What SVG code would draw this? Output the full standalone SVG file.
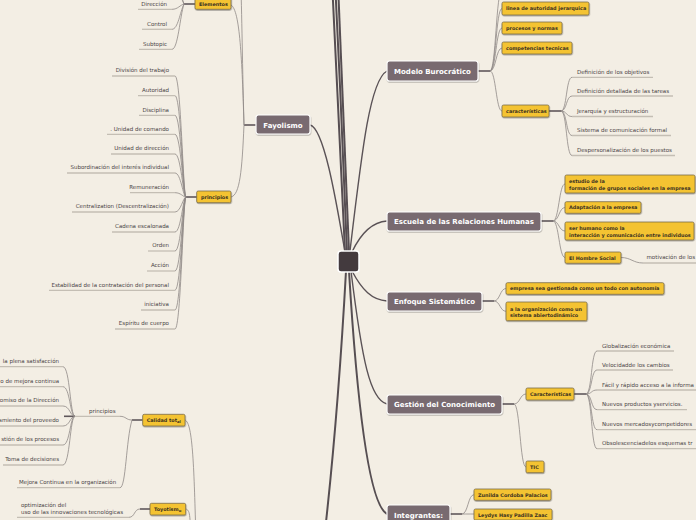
<svg xmlns="http://www.w3.org/2000/svg" width="696" height="520" viewBox="0 0 696 520">
<defs>
<filter id="sh" x="-20%" y="-30%" width="140%" height="170%"><feDropShadow dx="0.4" dy="1" stdDeviation="0.6" flood-color="#000" flood-opacity="0.35"/></filter>
<style>
.cm{fill:none;stroke:#564e52;stroke-width:2}
.cf{fill:none;stroke:#5a5256;stroke-width:1.4}
.cs{fill:none;stroke:#5f575b;stroke-width:1.6}
.cl{fill:none;stroke:#8f8987;stroke-width:0.8}
.ul{stroke:#c4beb4;stroke-width:1.3}
.main rect{fill:#786a6f;stroke:#fff;stroke-width:1.2;filter:url(#sh)}
.main text{font-family:"DejaVu Sans",sans-serif;font-weight:bold;font-size:7px;fill:#fff;text-anchor:middle}
.sub rect{fill:#f4c330;stroke:#7a6c4c;stroke-width:0.8;filter:url(#sh)}
.sub text{font-family:"DejaVu Sans",sans-serif;font-weight:bold;font-size:4.9px;fill:#3b3121}
.leaf text{font-family:"DejaVu Sans",sans-serif;font-size:5.5px;fill:#4a4446}
.r text{text-anchor:end}
</style>
</defs>
<rect width="696" height="520" fill="#f3eee4"/>
<g id="connectors">
<path class="cm" d="M345,252 C340,150 336,60 331,-40"/>
<path class="cm" d="M347,252 C343,150 339,60 334,-40"/>
<path class="cm" d="M349,252 C345,160 341,60 337,-40"/>
<path class="cf" d="M310,125 C324,128 336,200 345,252"/>
<path class="cf" d="M350,251 C362,150 370,80 387,71"/>
<path class="cf" d="M352,252 C360,235 372,222 387,221"/>
<path class="cf" d="M352,271 C362,290 372,300 387,301"/>
<path class="cf" d="M351,271 C362,360 370,400 387,404"/>
<path class="cm" d="M349,271 C358,420 370,505 387,514"/>
<path class="cm" d="M346,271 C340,380 332,470 324,540"/>
<path class="cs" d="M256,125 L244,125"/>
<path class="cl" d="M244,125 C242,60 240,10 231,5"/>
<path class="cl" d="M244,125 C242,50 242,10 240,-40"/>
<path class="cl" d="M244,125 C242,170 240,195 231,197"/>
<path class="cs" d="M195,4 L184,4"/>
<path class="cl" d="M184,4 C180,5 178,9.3 172,9.3"/>
<path class="cl" d="M184,4 C180,12 178,29.3 172,29.3"/>
<path class="cl" d="M184,4 C180,16 178,49.3 172,49.3"/>
<path class="cl" d="M184,4 C180,-4 178,-15 172,-15"/>
<path class="cl" d="M184,4 C180,-6 178,-35 172,-35"/>
<path class="cs" d="M197,197 L186,197"/>
<path class="cl" d="M175,76 C181,76 183,197 186,197"/>
<path class="cl" d="M175,95.7 C181,95.7 183,197 186,197"/>
<path class="cl" d="M175,115.3 C181,115.3 183,197 186,197"/>
<path class="cl" d="M175,134.3 C181,134.3 183,197 186,197"/>
<path class="cl" d="M175,154 C181,154 183,197 186,197"/>
<path class="cl" d="M175,173 C181,173 183,197 186,197"/>
<path class="cl" d="M175,192.7 C181,192.7 183,197 186,197"/>
<path class="cl" d="M175,212 C181,212 183,197 186,197"/>
<path class="cl" d="M175,232 C181,232 183,197 186,197"/>
<path class="cl" d="M175,251 C181,251 183,197 186,197"/>
<path class="cl" d="M175,271 C181,271 183,197 186,197"/>
<path class="cl" d="M175,290.3 C181,290.3 183,197 186,197"/>
<path class="cl" d="M175,310 C181,310 183,197 186,197"/>
<path class="cl" d="M175,329 C181,329 183,197 186,197"/>
<path class="cs" d="M478,71 L490,71"/>
<path class="cl" d="M490,71 C496,71 496,-10 502,-10"/>
<path class="cl" d="M490,71 C496,71 496,8.5 502,8.5"/>
<path class="cl" d="M490,71 C496,71 496,28 502,28"/>
<path class="cl" d="M490,71 C496,71 496,48 502,48"/>
<path class="cl" d="M490,71 C496,71 496,111 502,111"/>
<path class="cs" d="M549,111 L561,111"/>
<path class="cl" d="M561,111 C567,111 566,77.3 572,77.3"/>
<path class="cl" d="M561,111 C567,111 566,96 572,96"/>
<path class="cl" d="M561,111 C567,111 566,116.5 572,116.5"/>
<path class="cl" d="M561,111 C567,111 566,135.5 572,135.5"/>
<path class="cl" d="M561,111 C567,111 566,155.5 572,155.5"/>
<path class="cs" d="M541,221 L553,221"/>
<path class="cl" d="M553,221 C559,221 559,184 565,184"/>
<path class="cl" d="M553,221 C559,221 559,207.5 565,207.5"/>
<path class="cl" d="M553,221 C559,221 559,231 565,231"/>
<path class="cl" d="M553,221 C559,221 559,257.5 565,257.5"/>
<path class="cl" d="M621,257.5 C631,257.5 633,263 643,263"/>
<path class="cs" d="M482,301 L494,301"/>
<path class="cl" d="M494,301 C500,301 500,288.5 506,288.5"/>
<path class="cl" d="M494,301 C500,301 500,311.3 506,311.3"/>
<path class="cs" d="M502,404 L514,404"/>
<path class="cl" d="M514,404 C520,404 520,394 526,394"/>
<path class="cl" d="M514,404 C520,404 520,467 526,467"/>
<path class="cs" d="M574,394 L586,394"/>
<path class="cl" d="M586,394 C592,394 591,351 597,351"/>
<path class="cl" d="M586,394 C592,394 591,370 597,370"/>
<path class="cl" d="M586,394 C592,394 591,390 597,390"/>
<path class="cl" d="M586,394 C592,394 591,409.7 597,409.7"/>
<path class="cl" d="M586,394 C592,394 591,429.7 597,429.7"/>
<path class="cl" d="M586,394 C592,394 591,448.7 597,448.7"/>
<path class="cs" d="M450,514 L462,514"/>
<path class="cl" d="M462,514 C468,514 468,494.7 474,494.7"/>
<path class="cl" d="M462,514 C468,514 468,514 474,514"/>
<path class="cl" d="M185,420 C193,423 194,470 196,540"/>
<path class="cl" d="M185.7,509 C190,510 190,515 191,540"/>
<path class="cs" d="M142.7,420 L132,420"/>
<path class="cl" d="M132,420 C126,420 126,416.3 120,416.3"/>
<path class="cl" d="M132,420 C126,440 126,487.7 120,487.7"/>
<path class="cs" d="M75,416.3 L64,416.3"/>
<path class="cl" d="M63,366.7 C70,366.7 70,416.3 75,416.3"/>
<path class="cl" d="M63,386.7 C70,386.7 70,416.3 75,416.3"/>
<path class="cl" d="M63,406 C70,406 70,416.3 75,416.3"/>
<path class="cl" d="M63,426 C70,426 70,416.3 75,416.3"/>
<path class="cl" d="M63,445 C70,445 70,416.3 75,416.3"/>
<path class="cl" d="M63,465 C70,465 70,416.3 75,416.3"/>
<path class="cs" d="M150,509 L140,509"/>
<path class="cl" d="M140,509 C134,509 135,517.3 129,517.3"/>
</g>

<g id="center"><rect x="338" y="251" width="21" height="21" rx="3" fill="#433a3e" stroke="#fff" stroke-width="1.5"/></g>

<g id="fayolismo" class="main"><rect x="256" y="115" width="54" height="19" rx="2.5"/><text x="283" y="127.5">Fayolismo</text></g>
<g id="modelo" class="main"><rect x="387" y="61" width="91" height="20" rx="2.5"/><text x="432.5" y="73.5">Modelo Burocrático</text></g>
<g id="escuela" class="main"><rect x="387" y="212" width="154" height="19" rx="2.5"/><text x="464" y="224">Escuela de las Relaciones Humanas</text></g>
<g id="enfoque" class="main"><rect x="387" y="292" width="95" height="19" rx="2.5"/><text x="434.5" y="304">Enfoque Sistemático</text></g>
<g id="gestion" class="main"><rect x="387" y="395" width="115" height="19" rx="2.5"/><text x="444.5" y="407">Gestión del Conocimiento</text></g>
<g id="integrantes" class="main"><rect x="387" y="505" width="63" height="22" rx="2.5"/><text x="418.5" y="517.5">Integrantes:</text></g>

<g id="elementos" class="sub"><rect x="195" y="-3" width="36" height="12.3" rx="1.5"/><text x="199" y="6">Elementos</text></g>
<g id="principios-f" class="sub"><rect x="196.7" y="191" width="34.3" height="11.7" rx="1.5"/><text x="201" y="198.8">principios</text></g>

<g id="el-leaves" class="leaf r">
<g id="direccion"><line class="ul" x1="138" y1="9.3" x2="172" y2="9.3"/><text x="167" y="6">Dirección</text></g>
<g id="control"><line class="ul" x1="142" y1="29.3" x2="172" y2="29.3"/><text x="167" y="26">Control</text></g>
<g id="subtopic"><line class="ul" x1="139" y1="49.3" x2="172" y2="49.3"/><text x="167" y="46">Subtopic</text></g>
</g>

<g id="pr-leaves" class="leaf r">
<g id="p1"><line class="ul" x1="112" y1="76" x2="175" y2="76"/><text x="169" y="72.3">División del trabajo</text></g>
<g id="p2"><line class="ul" x1="138" y1="95.7" x2="175" y2="95.7"/><text x="169" y="92">Autoridad</text></g>
<g id="p3"><line class="ul" x1="139" y1="115.3" x2="175" y2="115.3"/><text x="169" y="111.6">Disciplina</text></g>
<g id="p4"><line class="ul" x1="107" y1="134.3" x2="175" y2="134.3"/><text x="169" y="130.6">. Unidad de comando</text></g>
<g id="p5"><line class="ul" x1="111" y1="154" x2="175" y2="154"/><text x="169" y="150.3">Unidad de dirección</text></g>
<g id="p6"><line class="ul" x1="67" y1="173" x2="175" y2="173"/><text x="169" y="169.3">Subordinación del interés individual</text></g>
<g id="p7"><line class="ul" x1="130" y1="192.7" x2="175" y2="192.7"/><text x="169" y="189">Remuneración</text></g>
<g id="p8"><line class="ul" x1="72" y1="212" x2="175" y2="212"/><text x="169" y="208.3">Centralization (Descentralización)</text></g>
<g id="p9"><line class="ul" x1="112" y1="232" x2="175" y2="232"/><text x="169" y="228.3">Cadena escalonada</text></g>
<g id="p10"><line class="ul" x1="148" y1="251" x2="175" y2="251"/><text x="169" y="247.3">Orden</text></g>
<g id="p11"><line class="ul" x1="147" y1="271" x2="175" y2="271"/><text x="169" y="267.3">Acción</text></g>
<g id="p12"><line class="ul" x1="49" y1="290.3" x2="175" y2="290.3"/><text x="169" y="286.6">Estabilidad de la contratación del personal</text></g>
<g id="p13"><line class="ul" x1="141" y1="310" x2="175" y2="310"/><text x="169" y="306.3">iniciativa</text></g>
<g id="p14"><line class="ul" x1="115" y1="329" x2="175" y2="329"/><text x="169" y="325.3">Espíritu de cuerpo</text></g>
</g>

<g id="mb-subs" class="sub">
<g id="linea"><rect x="502" y="2" width="87" height="13" rx="1.5"/><text x="506" y="10.3">linea de autoridad jerarquica</text></g>
<g id="procesos"><rect x="502" y="22" width="60" height="12" rx="1.5"/><text x="506" y="29.8">procesos y normas</text></g>
<g id="competencias"><rect x="502" y="42" width="70" height="12" rx="1.5"/><text x="506" y="49.8">competencias tecnicas</text></g>
<g id="caracteristicas-mb"><rect x="502" y="105" width="47" height="12" rx="1.5"/><text x="506" y="112.8">características</text></g>
</g>

<g id="mb-leaves" class="leaf">
<g id="c1"><line class="ul" x1="572" y1="77.3" x2="653" y2="77.3"/><text x="577" y="73.8">Definición de los objetivos</text></g>
<g id="c2"><line class="ul" x1="572" y1="96" x2="673" y2="96"/><text x="577" y="92.5">Definición detallada de las tareas</text></g>
<g id="c3"><line class="ul" x1="572" y1="116.5" x2="653" y2="116.5"/><text x="577" y="113">Jerarquía y estructuración</text></g>
<g id="c4"><line class="ul" x1="572" y1="135.5" x2="671" y2="135.5"/><text x="577" y="132">Sistema de comunicación formal</text></g>
<g id="c5"><line class="ul" x1="572" y1="155.5" x2="675" y2="155.5"/><text x="577" y="152">Despersonalización de los puestos</text></g>
</g>

<g id="esc-subs" class="sub">
<g id="estudio"><rect x="565" y="175" width="130" height="18" rx="1.5"/><text x="569" y="182.5">estudio de la</text><text x="569" y="190">formación de grupos sociales en la empresa</text></g>
<g id="adaptacion"><rect x="565" y="201.7" width="76" height="11.6" rx="1.5"/><text x="569" y="209.4">Adaptación a la empresa</text></g>
<g id="serhumano"><rect x="565" y="222" width="129" height="18" rx="1.5"/><text x="569" y="229.5">ser humano como la</text><text x="569" y="236.5">interacción y comunicación entre individuos</text></g>
<g id="hombre"><rect x="565" y="252" width="56" height="11.3" rx="1.5"/><text x="569" y="259.5">El Hombre Social</text></g>
</g>
<g id="motivacion" class="leaf"><line class="ul" x1="643" y1="263" x2="700" y2="263"/><text x="646.5" y="259">motivación de los</text></g>

<g id="enf-subs" class="sub">
<g id="empresa"><rect x="506" y="282.7" width="158" height="11.6" rx="1.5"/><text x="510" y="290.4">empresa sea gestionada como un todo con autonomía</text></g>
<g id="organizacion"><rect x="506" y="302" width="81" height="18.7" rx="1.5"/><text x="510" y="310.8">a la organización como un</text><text x="510" y="317.2">sistema abiertodinámico</text></g>
</g>

<g id="ges-subs" class="sub">
<g id="caracteristicas-gc"><rect x="526" y="388" width="48" height="12" rx="1.5"/><text x="530" y="395.8">Características</text></g>
<g id="tic"><rect x="526" y="461" width="18" height="11.7" rx="1.5"/><text x="530" y="468.8">TIC</text></g>
</g>

<g id="ges-leaves" class="leaf">
<g id="g1"><line class="ul" x1="597" y1="351" x2="674" y2="351"/><text x="602" y="347.7">Globalización económica</text></g>
<g id="g2"><line class="ul" x1="597" y1="370" x2="673" y2="370"/><text x="602" y="366.7">Velocidadde los cambios</text></g>
<g id="g3"><line class="ul" x1="597" y1="390" x2="700" y2="390"/><text x="602" y="386.7">Fácil y rápido acceso a la informa</text></g>
<g id="g4"><line class="ul" x1="597" y1="409.7" x2="687" y2="409.7"/><text x="602" y="406.4">Nuevos productos yservicios.</text></g>
<g id="g5"><line class="ul" x1="597" y1="429.7" x2="696" y2="429.7"/><text x="602" y="426.4">Nuevos mercadosycompetidores</text></g>
<g id="g6"><line class="ul" x1="597" y1="448.7" x2="700" y2="448.7"/><text x="602" y="445.4">Obsolescenciadelos esquemas tr</text></g>
</g>

<g id="int-subs" class="sub">
<g id="zunilda"><rect x="474" y="489" width="77" height="11.3" rx="1.5"/><text x="478" y="496.7">Zunilda Cordoba Palacios</text></g>
<g id="leydys"><rect x="474" y="509" width="78" height="11" rx="1.5"/><text x="478" y="516.6">Leydys Hasy Padilla Zaac</text></g>
</g>

<g id="calidad" class="sub"><rect x="142.7" y="414.3" width="42.3" height="11.7" rx="1.5"/><text x="146.7" y="421.6">Calidad tot<tspan font-size="3.8px" dy="1.6">al</tspan></text></g>
<g id="toyotismo" class="sub"><rect x="150" y="503.3" width="35.7" height="11.7" rx="1.5"/><text x="154" y="510.6">Toyotism<tspan font-size="3.8px" dy="1.6">o</tspan></text></g>

<g id="ct-principios" class="leaf"><line class="ul" x1="75" y1="416.3" x2="120" y2="416.3"/><text x="89" y="412.5">principios</text></g>
<g id="ct-mejora" class="leaf"><line class="ul" x1="17" y1="487.7" x2="120" y2="487.7"/><text x="19" y="484">Mejora Continua en la organización</text></g>
<g id="ct-leaves" class="leaf r">
<g id="q1"><line class="ul" x1="-5" y1="366.7" x2="63" y2="366.7"/><text x="59" y="363">la plena satisfacción</text></g>
<g id="q2"><line class="ul" x1="-5" y1="386.7" x2="63" y2="386.7"/><text x="59" y="383">o de mejora continua</text></g>
<g id="q3"><line class="ul" x1="-5" y1="406" x2="63" y2="406"/><text x="59" y="402.3">omiso de la Dirección</text></g>
<g id="q4"><line class="ul" x1="-5" y1="426" x2="63" y2="426"/><text x="59" y="422.3">amiento del proveedo</text></g>
<g id="q5"><line class="ul" x1="-5" y1="445" x2="63" y2="445"/><text x="59" y="441.3">stión de los procesos</text></g>
<g id="q6"><line class="ul" x1="3" y1="465" x2="63" y2="465"/><text x="59" y="461.3">Toma de decisiones</text></g>
</g>
<g id="ty-leaf" class="leaf"><line class="ul" x1="17" y1="517.3" x2="129" y2="517.3"/><text x="21" y="507">optimización del</text><text x="21" y="514.3">uso de las innovaciones tecnológicas</text></g>
</svg>
